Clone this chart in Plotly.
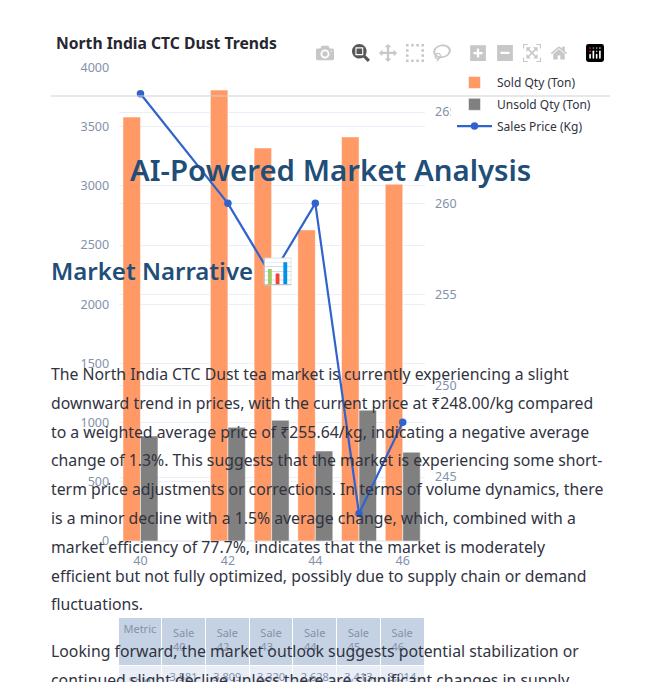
import plotly.graph_objects as go

W, H = 672, 682
sale_nos = [40, 42, 43, 44, 45, 46]
sold_qty = [3581, 3809, 3320, 2628, 3413, 3014]
unsold_qty = [886, 960, 1020, 760, 1105, 750]
sales_price = [266, 260, 256, 260, 243, 248]
table_header = ["Metric", "Sale 40", "Sale 42", "Sale 43", "Sale 44", "Sale 45", "Sale 46"]
table_sold = ["Sold Qty", "3,581", "3,809", "3,320", "2,628", "3,413", "3,014"]
narrative = [
    ("The North India CTC Dust tea market is currently experiencing a slight", 374),
    ("downward trend in prices, with the current price at ₹248.00/kg compared", 403),
    ("to a weighted average price of ₹255.64/kg, indicating a negative average", 432),
    ("change of 1.3%. This suggests that the market is experiencing some short-", 460),
    ("term price adjustments or corrections. In terms of volume dynamics, there", 489),
    ("is a minor decline with a 1.5% average change, which, combined with a", 518),
    ("market efficiency of 77.7%, indicates that the market is moderately", 547),
    ("efficient but not fully optimized, possibly due to supply chain or demand", 576),
    ("fluctuations.", 604),
    ("Looking forward, the market outlook suggests potential stabilization or", 651),
    ("continued slight decline unless there are significant changes in supply", 680),
]

FONT = "Noto Sans"
TICK = "#8391ab"
px = lambda x: x / W
py = lambda y: 1 - y / H

fig = go.Figure()
fig.add_bar(x=sale_nos, y=sold_qty, name="Sold Qty (Ton)", legendgroup="a", marker=dict(color="#FF9966", line=dict(color="#fff", width=0.5)))
fig.add_bar(x=sale_nos, y=unsold_qty, name="Unsold Qty (Ton)", legendgroup="b", marker=dict(color="#808080", line=dict(color="#fff", width=0.5)))
fig.add_scatter(x=sale_nos, y=sales_price, name="Sales Price (Kg)", legendgroup="c", yaxis="y2", mode="lines+markers",
                line=dict(color="#3063CC", width=2.2), marker=dict(color="#3063CC", size=7.5))
fig.add_trace(go.Table(
    domain=dict(x=[px(118), px(424.6)], y=[0, py(617)]),
    header=dict(values=table_header, fill_color="#C5D2E4", line_color="#fff", font=dict(family=FONT, size=11, color=TICK), height=48, align="center"),
    cells=dict(values=[[v] for v in table_sold], fill_color="#E8EDF6", line_color="#fff", font=dict(family=FONT, size=11, color=TICK), height=30, align="center"),
))

ann = [
    dict(text="<b>North India CTC Dust Trends</b>", x=px(54), y=py(43), font=dict(size=15.7, color="#262730")),
    dict(text="AI-Powered Market Analysis", x=px(128), y=py(170), font=dict(size=29.4, color="#1F4E79", weight=600)),
    dict(text="Market Narrative", x=px(49), y=py(270), font=dict(size=24, color="#1F4E79", weight=600)),
    dict(text="📊", x=px(260), y=py(270), font=dict(size=25)),
]
ann += [dict(text=t, x=px(49), y=py(y), font=dict(size=15.8, color="#31333F")) for t, y in narrative]
for a in ann:
    a.update(xref="paper", yref="paper", xanchor="left", yanchor="middle", showarrow=False)
    a["font"].setdefault("family", FONT)

fig.update_layout(
    width=W, height=H, template="plotly_white", autosize=False,
    margin=dict(l=0, r=0, t=0, b=0, pad=0),
    barmode="group", bargap=0.2, bargroupgap=0,
    font=dict(family=FONT, color=TICK),
    xaxis=dict(domain=[px(118.6), px(424.6)], range=[39.5, 46.5], tickvals=[40, 42, 44, 46], showgrid=False, zeroline=False,
               ticks="outside", ticklen=8, tickcolor="rgba(0,0,0,0)", tickfont=dict(size=12.5, color=TICK), automargin=False),
    yaxis=dict(domain=[py(541), py(67.5)], range=[0, 4000], dtick=500, gridcolor="#EBF0F8", zerolinecolor="#EBF0F8",
               ticks="outside", ticklen=6, tickcolor="rgba(0,0,0,0)", tickfont=dict(size=12.5, color=TICK), automargin=False),
    yaxis2=dict(overlaying="y", side="right", range=[241.5, 267.44], dtick=5, gridcolor="#EBF0F8", zeroline=False,
                ticks="outside", ticklen=7, tickcolor="rgba(0,0,0,0)", tickfont=dict(size=12.5, color=TICK), automargin=False),
    legend=dict(x=px(452), y=py(68), xanchor="left", yanchor="top", bgcolor="rgba(0,0,0,0)", itemwidth=35, tracegroupgap=2.8,
                font=dict(family=FONT, size=12, color="#31333F"), traceorder="grouped"),
    modebar=dict(bgcolor="rgba(0,0,0,0)", color="rgba(68,68,68,0.3)", activecolor="rgba(68,68,68,0.9)"),
    shapes=[
        dict(type="rect", xref="paper", yref="paper", x0=px(451), x1=px(640), y0=py(135), y1=py(70), fillcolor="#fff", line_width=0),
        dict(type="line", xref="paper", yref="paper", x0=px(51), x1=px(610), y0=py(96), y1=py(96), line=dict(color="#D0D1D5", width=1)),
    ],
    annotations=ann,
)

post = """
document.body.style.margin='0';document.body.style.overflow='hidden';
var s=document.createElement('style');
s.textContent='.js-plotly-plot .plotly .modebar{top:41px !important;right:64px !important;}'
 +'.js-plotly-plot .plotly .modebar-btn{font-size:18px !important;height:24px !important;padding:3px 4.5px !important;}'
 +'.js-plotly-plot .plotly .modebar-group{padding-left:9px !important;}';
document.head.appendChild(s);
"""
fig.write_html("out.html", config={"displayModeBar": True}, post_script=post)
